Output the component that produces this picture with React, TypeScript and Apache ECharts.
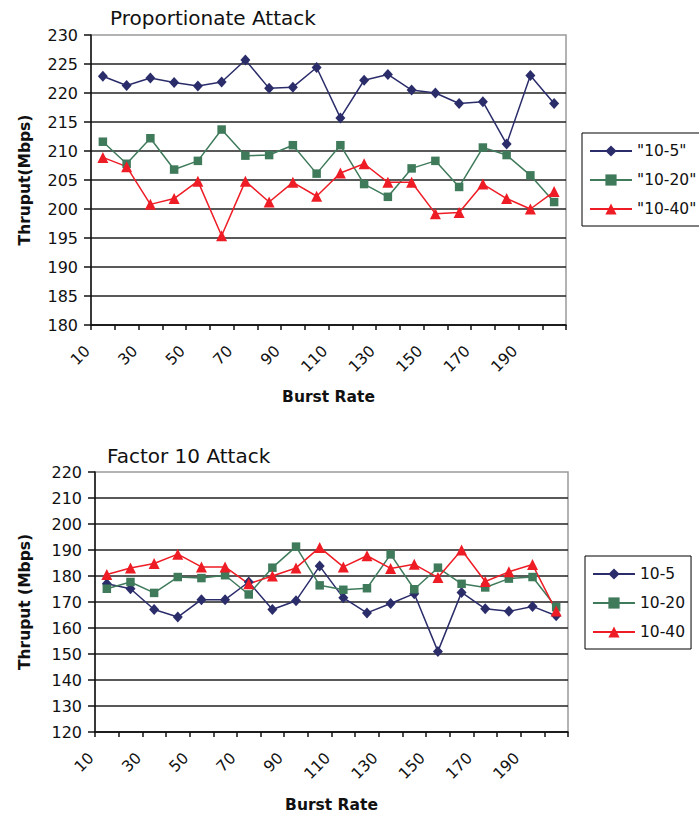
import React, { useEffect, useRef } from "react";
import * as echarts from "echarts";

const categories = ["10","20","30","40","50","60","70","80","90","100","110","120","130","140","150","160","170","180","190","200"];

const topTitle = "Proportionate Attack";
const bottomTitle = "Factor 10 Attack";
const topNames = ['"10-5"', '"10-20"', '"10-40"'];
const bottomNames = ["10-5", "10-20", "10-40"];

const top105 = [222.9, 221.3, 222.6, 221.8, 221.2, 221.9, 225.7, 220.8, 221.0, 224.4, 215.7, 222.2, 223.2, 220.5, 220.0, 218.2, 218.5, 211.2, 223.0, 218.2];
const top1020 = [211.6, 207.8, 212.2, 206.8, 208.3, 213.7, 209.2, 209.3, 211.0, 206.1, 211.0, 204.3, 202.1, 207.0, 208.3, 203.8, 210.6, 209.3, 205.8, 201.2];
const top1040 = [208.9, 207.3, 200.8, 201.8, 204.8, 195.4, 204.8, 201.2, 204.6, 202.2, 206.2, 207.8, 204.6, 204.6, 199.2, 199.4, 204.3, 201.8, 200.0, 203.0];

const bot105 = [177.0, 175.1, 167.1, 164.2, 170.9, 170.9, 177.7, 167.1, 170.5, 183.8, 171.6, 165.8, 169.4, 173.2, 151.0, 173.7, 167.4, 166.4, 168.3, 164.7];
const bot1020 = [175.1, 177.7, 173.5, 179.6, 179.2, 180.3, 172.9, 183.2, 191.3, 176.4, 174.7, 175.3, 188.3, 174.9, 183.2, 177.0, 175.6, 179.0, 179.6, 168.0];
const bot1040 = [180.6, 183.1, 184.8, 188.4, 183.5, 183.5, 177.0, 180.0, 183.1, 191.0, 183.5, 187.8, 182.9, 184.5, 179.4, 190.0, 177.9, 181.6, 184.4, 166.5];

const FONT = "DejaVu Sans";
const COLORS = ["#2b2d6b", "#3f7a5b", "#ee1c25"];
const SYMBOLS = ["diamond", "rect", "triangle"];
const SIZES: any[] = [[10, 11], 8.5, 11];

function App() {
  const ref = useRef<HTMLDivElement>(null);
  useEffect(() => {
    if (!ref.current) return;
    const chart = echarts.init(ref.current, null, { renderer: "svg" });

    const xAxisBase = (gridIndex: number, gap: number) => ({
      type: "category",
      gridIndex,
      data: categories,
      boundaryGap: true,
      name: "Burst Rate",
      nameLocation: "middle",
      nameGap: gap,
      nameTextStyle: { fontFamily: FONT, fontWeight: "bold", fontSize: 15.5, color: "#111" },
      axisLine: { show: true, lineStyle: { color: "#111", width: 1.5 } },
      axisTick: { show: true, interval: 0, length: 5, lineStyle: { color: "#111", width: 1.5 } },
      axisLabel: {
        interval: 1,
        rotate: 45,
        margin: 8,
        padding: [0, 22, 0, 0],
        fontFamily: FONT,
        fontSize: 15.5,
        color: "#111",
      },
      splitLine: { show: false },
    });

    const yAxisBase = (gridIndex: number, min: number, max: number, interval: number, name: string, gap: number) => ({
      type: "value",
      gridIndex,
      min,
      max,
      interval,
      name,
      nameLocation: "middle",
      nameRotate: 90,
      nameGap: gap,
      nameTextStyle: { fontFamily: FONT, fontWeight: "bold", fontSize: 15.5, color: "#111" },
      axisLine: { show: true, lineStyle: { color: "#111", width: 1.5 } },
      axisTick: { show: true, length: 7, lineStyle: { color: "#111", width: 1.5 } },
      axisLabel: { margin: 13, fontFamily: FONT, fontSize: 16, color: "#111" },
      splitLine: { show: true, showMaxLine: false, lineStyle: { color: "#222", width: 1.5 } },
    });

    const mkSeries = (names: string[], datas: number[][], idx: number) =>
      datas.map((d, i) => ({
        type: "line",
        name: names[i],
        xAxisIndex: idx,
        yAxisIndex: idx,
        data: d,
        symbol: SYMBOLS[i],
        symbolSize: SIZES[i],
        showAllSymbol: true,
        lineStyle: { color: COLORS[i], width: 1.5 },
        itemStyle: { color: COLORS[i] },
        emphasis: { disabled: true },
      }));

    const legendBase = (names: string[], left: number, top: number, padRight: number) => ({
      data: names,
      orient: "vertical",
      left,
      top,
      itemWidth: 42,
      itemHeight: 14,
      itemGap: 11,
      padding: [9, padRight, 8, 7],
      borderColor: "#000",
      borderWidth: 1,
      backgroundColor: "#fff",
      textStyle: { fontFamily: FONT, fontSize: 15.5, color: "#111", lineHeight: 18 },
      selectedMode: false,
    });

    chart.setOption({
      animation: false,
      backgroundColor: "#fff",
      textStyle: { fontFamily: FONT },
      title: [
        { text: topTitle, left: 105, top: 3, textStyle: { fontFamily: FONT, fontSize: 20, fontWeight: "normal", color: "#111" } },
        { text: bottomTitle, left: 102, top: 441, textStyle: { fontFamily: FONT, fontSize: 20, fontWeight: "normal", color: "#111" } },
      ],
      grid: [
        { left: 91, top: 35, width: 475, height: 290, show: true, borderColor: "#9a9a9a", borderWidth: 1.5, backgroundColor: "transparent" },
        { left: 95, top: 472, width: 473, height: 260, show: true, borderColor: "#9a9a9a", borderWidth: 1.5, backgroundColor: "transparent" },
      ],
      xAxis: [xAxisBase(0, 64), xAxisBase(1, 65)],
      yAxis: [
        yAxisBase(0, 180, 230, 5, "Thruput(Mbps)", 58),
        yAxisBase(1, 120, 220, 10, "Thruput (Mbps)", 62),
      ],
      legend: [
        legendBase(topNames, 582, 133, 12),
        legendBase(bottomNames, 585, 556, 6),
      ],
      series: [
        ...mkSeries(topNames, [top105, top1020, top1040], 0),
        ...mkSeries(bottomNames, [bot105, bot1020, bot1040], 1),
      ],
    });

    return () => chart.dispose();
  }, []);

  return (
    <div
      ref={ref}
      style={{ position: "absolute", left: 0, top: 0, width: 699, height: 822, background: "#fff" }}
    />
  );
}

export default App;
